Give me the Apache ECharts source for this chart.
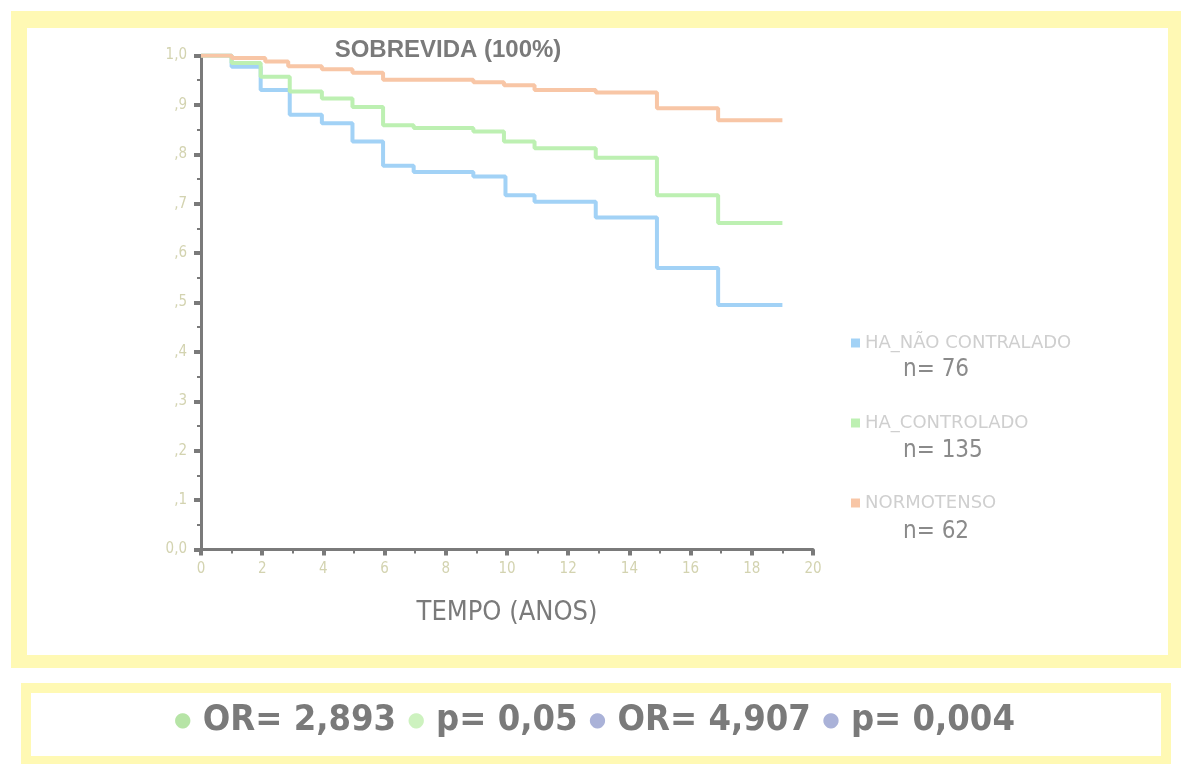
<!DOCTYPE html>
<html>
<head>
<meta charset="utf-8">
<script src="https://cdn.jsdelivr.net/npm/echarts@6/dist/echarts.min.js"></script>
<style>html,body{margin:0;padding:0;background:#fff;}#c{width:1189px;height:766px;}</style>
</head>
<body>
<div id="c"></div>
<script>
// ---- data ----
var seriesNames = ['HA_NÃO CONTRALADO', 'HA_CONTROLADO', 'NORMOTENSO'];
var sampleSizes = ['n= 76', 'n= 135', 'n= 62'];

var blueTimes  = [0, 1, 1.95, 2.9, 3.95, 4.95, 5.95, 6.95, 8.9, 9.95, 10.9, 12.9, 14.9, 16.9, 19];
var blueValues = [1.0, 0.977, 0.930, 0.880, 0.863, 0.826, 0.777, 0.764, 0.755, 0.717, 0.704, 0.672, 0.570, 0.495, 0.495];

var greenTimes  = [0, 1, 1.95, 2.9, 3.95, 4.95, 5.95, 6.95, 8.9, 9.9, 10.9, 12.9, 14.9, 16.9, 19];
var greenValues = [1.0, 0.985, 0.957, 0.927, 0.913, 0.896, 0.859, 0.853, 0.846, 0.826, 0.812, 0.793, 0.717, 0.661, 0.661];

var orangeTimes  = [0, 1, 2.1, 2.85, 3.95, 4.95, 5.95, 8.9, 9.9, 10.9, 12.9, 14.9, 16.9, 19];
var orangeValues = [1.0, 0.995, 0.988, 0.978, 0.972, 0.965, 0.951, 0.946, 0.940, 0.930, 0.925, 0.893, 0.869, 0.869];

var yTickLabels = ['0,0', ',1', ',2', ',3', ',4', ',5', ',6', ',7', ',8', ',9', '1,0'];
var xTickLabels = ['0', '2', '4', '6', '8', '10', '12', '14', '16', '18', '20'];

var statsText = ['OR= 2,893', 'p= 0,05', 'OR= 4,907', 'p= 0,004'];

// ---- build ----
function pairs(t, v) { return t.map(function (x, i) { return [x, v[i]]; }); }
var colors = ['#a2d2f6', '#bdf0b2', '#f8c6a6'];
var dataSets = [pairs(blueTimes, blueValues), pairs(greenTimes, greenValues), pairs(orangeTimes, orangeValues)];

var chart = echarts.init(document.getElementById('c'));
var tickColor = '#d3d3b0';
var narrow = "'Liberation Sans Narrow', 'DejaVu Sans Condensed', 'Liberation Sans', sans-serif";

var series = dataSets.map(function (d, i) {
  return {
    name: seriesNames[i], type: 'line', step: 'end', data: d,
    symbol: 'none', z: 3 + i,
    lineStyle: { color: colors[i], width: 4 },
    itemStyle: { color: colors[i] }
  };
});

var bulletColors = ['#b6e4a6', '#cdf2bf', '#aab2d8', '#aab2d8'];
var statsRich = {};
var statsStr = statsText.map(function (s, i) {
  statsRich['d' + i] = { fill: bulletColors[i], fontSize: 20, fontFamily: 'DejaVu Sans' };
  return '{d' + i + '|●} ' + s;
}).join(' ');

var graphics = [
  { type: 'rect', z: -10, shape: { x: 11, y: 11, width: 1170, height: 657 }, style: { fill: '#fff9b4' } },
  { type: 'rect', z: -9, shape: { x: 27, y: 28, width: 1141, height: 627 }, style: { fill: '#ffffff' } },
  { type: 'rect', z: -10, shape: { x: 21, y: 683, width: 1150, height: 81 }, style: { fill: '#fff9b4' } },
  { type: 'rect', z: -9, shape: { x: 31, y: 693, width: 1130, height: 63 }, style: { fill: '#ffffff' } },
  { type: 'text', z: 10, left: 'center', top: 703,
    style: { text: statsStr, fill: '#7a7a7a', font: "bold 36px " + narrow, rich: statsRich } }
];
sampleSizes.forEach(function (s, i) {
  graphics.push({ type: 'text', z: 10, left: 903, top: 358 + i * 81,
    style: { text: s, fill: '#8a8a8a', font: "24px " + narrow } });
});

chart.setOption({
  backgroundColor: '#ffffff',
  animation: false,
  title: {
    text: 'SOBREVIDA (100%)', left: 443, top: 33, textAlign: 'center',
    textStyle: { color: '#7a7a7a', fontSize: 24, fontWeight: 'bold', fontFamily: 'Liberation Sans, Arial, sans-serif' }
  },
  legend: {
    data: seriesNames, orient: 'vertical', left: 846, top: 329,
    itemGap: 62, itemWidth: 9, itemHeight: 9, icon: 'rect',
    textStyle: { color: '#cfcfcf', fontSize: 18, fontFamily: 'DejaVu Sans' }
  },
  grid: { left: 201, right: 376, top: 55.5, bottom: 216.5 },
  xAxis: {
    type: 'value', min: 0, max: 20, interval: 2,
    name: 'TEMPO (ANOS)', nameLocation: 'middle', nameGap: 50,
    nameTextStyle: { color: '#7a7a7a', fontSize: 27, fontFamily: narrow },
    axisLine: { show: true, onZero: false, lineStyle: { color: '#7a7a7a', width: 3 } },
    axisTick: { show: true, length: 6, lineStyle: { color: '#7a7a7a', width: 4 } },
    minorTick: { show: true, splitNumber: 2, length: 4, lineStyle: { color: '#7a7a7a', width: 2 } },
    axisLabel: { color: tickColor, fontSize: 15, margin: 12, fontFamily: narrow,
      formatter: function (v) { return xTickLabels[Math.round(v / 2)]; } },
    splitLine: { show: false }
  },
  yAxis: {
    type: 'value', min: 0, max: 1, interval: 0.1,
    axisLine: { show: true, lineStyle: { color: '#7a7a7a', width: 3 } },
    axisTick: { show: true, length: 7, lineStyle: { color: '#7a7a7a', width: 4 } },
    minorTick: { show: true, splitNumber: 2, length: 4, lineStyle: { color: '#7a7a7a', width: 2 } },
    axisLabel: { color: tickColor, fontSize: 15, margin: 14, fontFamily: narrow,
      formatter: function (v) { return yTickLabels[Math.round(v * 10)]; } },
    splitLine: { show: false }
  },
  graphic: graphics,
  series: series
});
</script>
</body>
</html>
